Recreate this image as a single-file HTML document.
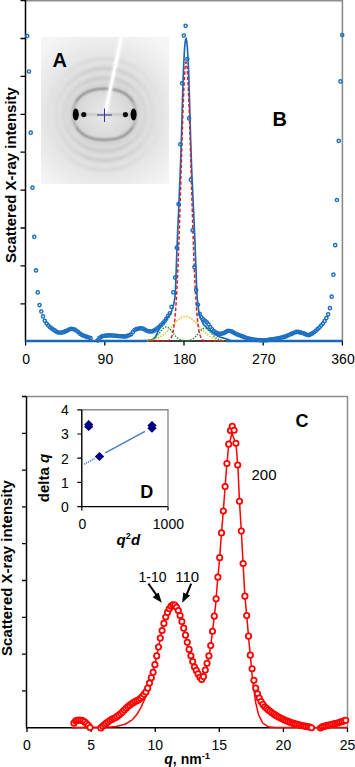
<!DOCTYPE html>
<html><head><meta charset="utf-8"><style>
html,body{margin:0;padding:0;background:#fff;width:355px;height:767px;overflow:hidden}
svg{display:block}
text{font-family:"Liberation Sans",sans-serif}
.tl{font-size:14px;fill:#000}
.ax{font-size:15px;font-weight:bold;fill:#000}
.axb{font-size:14px;font-weight:bold;fill:#000}
.big{font-size:20px;font-weight:bold;fill:#000}
.big2{font-size:18px;font-weight:bold;fill:#000}
.big3{font-size:18px;font-weight:bold;fill:#000}
</style></head><body>
<svg width="355" height="767" viewBox="0 0 355 767">
<defs>
<radialGradient id="bgG" cx="104.5" cy="115" r="90" gradientUnits="userSpaceOnUse">
<stop offset="0" stop-color="#d8d8d8"/><stop offset="0.35" stop-color="#dcdcdc"/><stop offset="0.6" stop-color="#e3e3e3"/><stop offset="0.85" stop-color="#eeeeee"/><stop offset="1" stop-color="#f5f5f5"/>
</radialGradient>
<filter id="blur2" x="-20%" y="-20%" width="140%" height="140%"><feGaussianBlur stdDeviation="2"/></filter>
<filter id="blur1" x="-20%" y="-20%" width="140%" height="140%"><feGaussianBlur stdDeviation="0.9"/></filter>
<filter id="blur3" x="-30%" y="-30%" width="160%" height="160%"><feGaussianBlur stdDeviation="3"/></filter>
<filter id="blur15" x="-20%" y="-20%" width="140%" height="140%"><feGaussianBlur stdDeviation="1.7"/></filter>
<filter id="blur05" x="-20%" y="-20%" width="140%" height="140%"><feGaussianBlur stdDeviation="0.5"/></filter>
<clipPath id="clipTB"><rect x="78" y="70" width="53" height="22"/><rect x="78" y="137" width="53" height="22"/></clipPath>
<clipPath id="clipTB2"><rect x="70" y="80" width="70" height="22"/><rect x="70" y="127" width="70" height="22"/></clipPath>
<radialGradient id="diskG" cx="104.5" cy="114" r="31" gradientUnits="userSpaceOnUse"><stop offset="0" stop-color="#e8e8e8"/><stop offset="0.5" stop-color="#e0e0e0"/><stop offset="1" stop-color="#d4d4d4"/></radialGradient>
<linearGradient id="sideG" x1="41" x2="169" y1="0" y2="0" gradientUnits="userSpaceOnUse"><stop offset="0" stop-color="#000"/><stop offset="0.15" stop-color="#444"/><stop offset="0.38" stop-color="#fff"/><stop offset="0.62" stop-color="#fff"/><stop offset="0.85" stop-color="#444"/><stop offset="1" stop-color="#000"/></linearGradient>
<mask id="sideFade" maskUnits="userSpaceOnUse" x="0" y="0" width="355" height="400"><rect x="30" y="30" width="150" height="170" fill="url(#sideG)"/></mask>
</defs>
<path d="M25.5 0.8H342.4V341" fill="none" stroke="#8c8c8c" stroke-width="1.6"/>
<path d="M25.5 0V341H342.4" fill="none" stroke="#000" stroke-width="1.5"/>
<path d="M20.5 0.6H25.5M20.5 38.5H25.5M20.5 76.4H25.5M20.5 114.3H25.5M20.5 152.2H25.5M20.5 190.1H25.5M20.5 228.0H25.5M20.5 265.9H25.5M20.5 303.8H25.5M25.6 341V345.5M104.8 341V345.5M184.0 341V345.5M263.2 341V345.5M342.4 341V345.5" stroke="#000" stroke-width="1.3"/>
<text x="26.2" y="364" text-anchor="middle" class="tl">0</text>
<text x="105.4" y="364" text-anchor="middle" class="tl">90</text>
<text x="184.6" y="364" text-anchor="middle" class="tl">180</text>
<text x="263.8" y="364" text-anchor="middle" class="tl">270</text>
<text x="343.0" y="364" text-anchor="middle" class="tl">360</text>
<text transform="translate(15.6,175) rotate(-90)" text-anchor="middle" class="ax">Scattered X-ray intensity</text>

<g>
<rect x="41" y="37" width="128" height="147" fill="url(#bgG)"/>
<g filter="url(#blur2)">
 <ellipse cx="104.5" cy="114.5" rx="34" ry="28" fill="none" stroke="#c4c4c4" stroke-width="5" clip-path="url(#clipTB)"/>
 <ellipse cx="104.5" cy="114.5" rx="34" ry="28" fill="none" stroke="#d2d2d2" stroke-width="4"/>
</g>
<g filter="url(#blur15)" mask="url(#sideFade)">
 <ellipse cx="104.5" cy="114.5" rx="41" ry="36.5" fill="none" stroke="#c6c6c6" stroke-width="3"/>
 <ellipse cx="104.5" cy="114.5" rx="48.5" ry="46" fill="none" stroke="#c8c8c8" stroke-width="3"/>
 <ellipse cx="104.5" cy="114.5" rx="57" ry="55.5" fill="none" stroke="#d4d4d4" stroke-width="2.5"/>
</g>
<g filter="url(#blur1)">
 <path d="M135.80 114.30L135.76 116.14L135.65 117.70L135.46 119.16L135.19 120.56L134.85 121.91L134.43 123.21L133.95 124.46L133.38 125.67L132.75 126.84L132.04 127.96L131.27 129.04L130.43 130.08L129.52 131.06L128.54 132.00L127.50 132.89L126.40 133.73L125.24 134.52L124.02 135.26L122.74 135.94L121.40 136.56L120.01 137.13L118.57 137.65L117.07 138.10L115.52 138.50L113.91 138.83L112.25 139.11L110.52 139.32L108.70 139.48L106.77 139.57L104.50 139.60L102.23 139.57L100.30 139.48L98.48 139.32L96.75 139.11L95.09 138.83L93.48 138.50L91.93 138.10L90.43 137.65L88.99 137.13L87.60 136.56L86.26 135.94L84.98 135.26L83.76 134.52L82.60 133.73L81.50 132.89L80.46 132.00L79.48 131.06L78.57 130.08L77.73 129.04L76.96 127.96L76.25 126.84L75.62 125.67L75.05 124.46L74.57 123.21L74.15 121.91L73.81 120.56L73.54 119.16L73.35 117.70L73.24 116.14L73.20 114.30L73.24 112.46L73.35 110.90L73.54 109.44L73.81 108.04L74.15 106.69L74.57 105.39L75.05 104.14L75.62 102.93L76.25 101.76L76.96 100.64L77.73 99.56L78.57 98.52L79.48 97.54L80.46 96.60L81.50 95.71L82.60 94.87L83.76 94.08L84.98 93.34L86.26 92.66L87.60 92.04L88.99 91.47L90.43 90.95L91.93 90.50L93.48 90.10L95.09 89.77L96.75 89.49L98.48 89.28L100.30 89.12L102.23 89.03L104.50 89.00L106.77 89.03L108.70 89.12L110.52 89.28L112.25 89.49L113.91 89.77L115.52 90.10L117.07 90.50L118.57 90.95L120.01 91.47L121.40 92.04L122.74 92.66L124.02 93.34L125.24 94.08L126.40 94.87L127.50 95.71L128.54 96.60L129.52 97.54L130.43 98.52L131.27 99.56L132.04 100.64L132.75 101.76L133.38 102.93L133.95 104.14L134.43 105.39L134.85 106.69L135.19 108.04L135.46 109.44L135.65 110.90L135.76 112.46Z" fill="url(#diskG)" stroke="#909090" stroke-width="1.4"/>
 <path d="M135.80 114.30L135.76 116.14L135.65 117.70L135.46 119.16L135.19 120.56L134.85 121.91L134.43 123.21L133.95 124.46L133.38 125.67L132.75 126.84L132.04 127.96L131.27 129.04L130.43 130.08L129.52 131.06L128.54 132.00L127.50 132.89L126.40 133.73L125.24 134.52L124.02 135.26L122.74 135.94L121.40 136.56L120.01 137.13L118.57 137.65L117.07 138.10L115.52 138.50L113.91 138.83L112.25 139.11L110.52 139.32L108.70 139.48L106.77 139.57L104.50 139.60L102.23 139.57L100.30 139.48L98.48 139.32L96.75 139.11L95.09 138.83L93.48 138.50L91.93 138.10L90.43 137.65L88.99 137.13L87.60 136.56L86.26 135.94L84.98 135.26L83.76 134.52L82.60 133.73L81.50 132.89L80.46 132.00L79.48 131.06L78.57 130.08L77.73 129.04L76.96 127.96L76.25 126.84L75.62 125.67L75.05 124.46L74.57 123.21L74.15 121.91L73.81 120.56L73.54 119.16L73.35 117.70L73.24 116.14L73.20 114.30L73.24 112.46L73.35 110.90L73.54 109.44L73.81 108.04L74.15 106.69L74.57 105.39L75.05 104.14L75.62 102.93L76.25 101.76L76.96 100.64L77.73 99.56L78.57 98.52L79.48 97.54L80.46 96.60L81.50 95.71L82.60 94.87L83.76 94.08L84.98 93.34L86.26 92.66L87.60 92.04L88.99 91.47L90.43 90.95L91.93 90.50L93.48 90.10L95.09 89.77L96.75 89.49L98.48 89.28L100.30 89.12L102.23 89.03L104.50 89.00L106.77 89.03L108.70 89.12L110.52 89.28L112.25 89.49L113.91 89.77L115.52 90.10L117.07 90.50L118.57 90.95L120.01 91.47L121.40 92.04L122.74 92.66L124.02 93.34L125.24 94.08L126.40 94.87L127.50 95.71L128.54 96.60L129.52 97.54L130.43 98.52L131.27 99.56L132.04 100.64L132.75 101.76L133.38 102.93L133.95 104.14L134.43 105.39L134.85 106.69L135.19 108.04L135.46 109.44L135.65 110.90L135.76 112.46Z" fill="none" stroke="#6a6a6a" stroke-width="1.6" clip-path="url(#clipTB2)"/>
 <path d="M76 114.6H134" stroke="#9a9a9a" stroke-width="1"/>
 <path d="M105.5 112L121.5 36.5" stroke="#fff" stroke-width="4.5" opacity="0.7"/>
</g>
<g filter="url(#blur05)">
 <ellipse cx="75.8" cy="114.6" rx="3" ry="6" fill="#000"/>
 <ellipse cx="133.6" cy="114.6" rx="3" ry="6" fill="#000"/>
 <circle cx="83.8" cy="114.6" r="2.6" fill="#0a0a0a"/>
 <circle cx="125.4" cy="114.6" r="2.6" fill="#0a0a0a"/>
 <path d="M105.3 113L121.2 37" stroke="#fff" stroke-width="2.4"/>
</g>
<path d="M97 115H112M104.5 108.5V122" stroke="#33339a" stroke-width="1"/>
</g>

<text x="52.5" y="66.5" class="big">A</text>
<text x="272.5" y="125.8" class="big">B</text>
<path d="M25.6 341H146M226 341H342.4" fill="none" stroke="#1a6cbc" stroke-width="2.3"/>
<path d="M25.60 341.00L26.10 341.00L26.60 341.00L27.10 341.00L27.60 341.00L28.10 341.00L28.60 341.00L29.10 341.00L29.60 341.00L30.10 341.00L30.60 341.00L31.10 341.00L31.60 341.00L32.10 341.00L32.60 341.00L33.10 341.00L33.60 341.00L34.10 341.00L34.60 341.00L35.10 341.00L35.60 341.00L36.10 341.00L36.60 341.00L37.10 341.00L37.60 341.00L38.10 341.00L38.60 341.00L39.10 341.00L39.60 341.00L40.10 341.00L40.60 341.00L41.10 341.00L41.60 341.00L42.10 341.00L42.60 341.00L43.10 341.00L43.60 341.00L44.10 341.00L44.60 341.00L45.10 341.00L45.60 341.00L46.10 341.00L46.60 341.00L47.10 341.00L47.60 341.00L48.10 341.00L48.60 341.00L49.10 341.00L49.60 341.00L50.10 341.00L50.60 341.00L51.10 341.00L51.60 341.00L52.10 341.00L52.60 341.00L53.10 341.00L53.60 341.00L54.10 341.00L54.60 341.00L55.10 341.00L55.60 341.00L56.10 341.00L56.60 341.00L57.10 341.00L57.60 341.00L58.10 341.00L58.60 341.00L59.10 341.00L59.60 341.00L60.10 341.00L60.60 341.00L61.10 341.00L61.60 341.00L62.10 341.00L62.60 341.00L63.10 341.00L63.60 341.00L64.10 341.00L64.60 341.00L65.10 341.00L65.60 341.00L66.10 341.00L66.60 341.00L67.10 341.00L67.60 341.00L68.10 341.00L68.60 341.00L69.10 341.00L69.60 341.00L70.10 341.00L70.60 341.00L71.10 341.00L71.60 341.00L72.10 341.00L72.60 341.00L73.10 341.00L73.60 341.00L74.10 341.00L74.60 341.00L75.10 341.00L75.60 341.00L76.10 341.00L76.60 341.00L77.10 341.00L77.60 341.00L78.10 341.00L78.60 341.00L79.10 341.00L79.60 341.00L80.10 341.00L80.60 341.00L81.10 341.00L81.60 341.00L82.10 341.00L82.60 341.00L83.10 341.00L83.60 341.00L84.10 341.00L84.60 341.00L85.10 341.00L85.60 341.00L86.10 341.00L86.60 341.00L87.10 341.00L87.60 341.00L88.10 341.00L88.60 341.00L89.10 341.00L89.60 341.00L90.10 341.00L90.60 341.00L91.10 341.00L91.60 341.00L92.10 341.00L92.60 341.00L93.10 341.00L93.60 341.00L94.10 341.00L94.60 341.00L95.10 341.00L95.60 341.00L96.10 341.00L96.60 341.00L97.10 341.00L97.60 341.00L98.10 341.00L98.60 341.00L99.10 341.00L99.60 341.00L100.10 341.00L100.60 341.00L101.10 341.00L101.60 341.00L102.10 341.00L102.60 341.00L103.10 341.00L103.60 341.00L104.10 341.00L104.60 341.00L105.10 341.00L105.60 341.00L106.10 341.00L106.60 341.00L107.10 341.00L107.60 341.00L108.10 341.00L108.60 341.00L109.10 341.00L109.60 341.00L110.10 341.00L110.60 341.00L111.10 341.00L111.60 341.00L112.10 341.00L112.60 341.00L113.10 341.00L113.60 341.00L114.10 341.00L114.60 341.00L115.10 341.00L115.60 341.00L116.10 341.00L116.60 341.00L117.10 341.00L117.60 341.00L118.10 341.00L118.60 341.00L119.10 341.00L119.60 341.00L120.10 341.00L120.60 341.00L121.10 341.00L121.60 341.00L122.10 341.00L122.60 341.00L123.10 341.00L123.60 341.00L124.10 341.00L124.60 341.00L125.10 341.00L125.60 341.00L126.10 341.00L126.60 341.00L127.10 341.00L127.60 341.00L128.10 341.00L128.60 341.00L129.10 341.00L129.60 341.00L130.10 341.00L130.60 341.00L131.10 341.00L131.60 341.00L132.10 341.00L132.60 341.00L133.10 341.00L133.60 341.00L134.10 341.00L134.60 341.00L135.10 341.00L135.60 341.00L136.10 341.00L136.60 341.00L137.10 341.00L137.60 341.00L138.10 341.00L138.60 341.00L139.10 341.00L139.60 341.00L140.10 341.00L140.60 341.00L141.10 341.00L141.60 341.00L142.10 341.00L142.60 341.00L143.10 341.00L143.60 341.00L144.10 340.97L144.60 340.80L145.10 340.63L145.60 340.56L146.10 340.51L146.60 340.46L147.10 340.41L147.60 340.36L148.10 340.31L148.60 340.26L149.10 340.20L149.60 340.15L150.10 340.10L150.60 340.05L151.10 340.00L151.60 339.95L152.10 339.90L152.60 339.48L153.10 339.07L153.60 338.65L154.10 338.23L154.60 337.82L155.10 337.40L155.60 336.38L156.10 335.36L156.60 334.34L157.10 333.32L157.60 332.30L158.10 331.30L158.60 330.30L159.10 329.30L159.60 328.30L160.10 327.37L160.60 326.72L161.10 326.07L161.60 325.42L162.10 324.77L162.60 324.12L163.10 323.47L163.60 322.79L164.10 322.12L164.60 321.45L165.10 320.78L165.60 320.10L166.10 319.43L166.60 318.77L167.10 318.10L167.60 317.43L168.10 316.77L168.60 316.10L169.10 315.38L169.60 314.56L170.10 313.75L170.60 312.94L171.10 312.12L171.60 311.05L172.10 309.80L172.60 308.55L173.10 307.30L173.60 305.03L174.10 302.08L174.60 299.13L175.10 296.18L175.60 286.00L176.10 272.50L176.60 259.09L177.10 245.45L177.60 233.33L178.10 222.22L178.60 211.11L179.10 199.05L179.60 186.89L180.10 174.73L180.60 162.00L181.10 147.00L181.60 131.33L182.10 113.00L182.60 95.92L183.10 78.83L183.60 66.43L184.10 57.14L184.60 47.86L185.10 42.75L185.60 39.30L186.10 38.70L186.60 40.31L187.10 44.37L187.60 51.57L188.10 60.86L188.60 70.14L189.10 85.67L189.60 102.75L190.10 120.33L190.60 138.00L191.10 153.00L191.60 167.25L192.10 178.50L192.60 189.75L193.10 201.00L193.60 212.14L194.10 222.86L194.60 233.57L195.10 245.45L195.60 259.09L196.10 272.50L196.60 286.00L197.10 297.00L197.60 302.00L198.10 306.37L198.60 309.81L199.10 313.25L199.60 316.21L200.10 317.27L200.60 318.34L201.10 319.40L201.60 320.46L202.10 321.52L202.60 322.59L203.10 323.65L203.60 324.60L204.10 325.11L204.60 325.62L205.10 326.13L205.60 326.64L206.10 327.15L206.60 327.66L207.10 328.16L207.60 328.67L208.10 329.18L208.60 329.69L209.10 330.20L209.60 330.57L210.10 330.93L210.60 331.30L211.10 331.66L211.60 332.03L212.10 332.40L212.60 332.76L213.10 333.13L213.60 333.49L214.10 333.86L214.60 334.23L215.10 334.52L215.60 334.80L216.10 335.08L216.60 335.36L217.10 335.63L217.60 335.91L218.10 336.19L218.60 336.47L219.10 336.74L219.60 336.92L220.10 337.06L220.60 337.21L221.10 337.36L221.60 337.51L222.10 337.65L222.60 337.80L223.10 337.95L223.60 338.09L224.10 338.24L224.60 338.39L225.10 338.54L225.60 338.68L226.10 338.84L226.60 339.02L227.10 339.20L227.60 339.39L228.10 339.57L228.60 339.75L229.10 339.94L229.60 340.12L230.10 340.30L230.60 340.49L231.10 340.67L231.60 340.85L232.10 341.00L232.60 341.00L233.10 341.00L233.60 341.00L234.10 341.00L234.60 341.00L235.10 341.00L235.60 341.00L236.10 341.00L236.60 341.00L237.10 341.00L237.60 341.00L238.10 341.00L238.60 341.00L239.10 341.00L239.60 341.00L240.10 341.00L240.60 341.00L241.10 341.00L241.60 341.00L242.10 341.00L242.60 341.00L243.10 341.00L243.60 341.00L244.10 341.00L244.60 341.00L245.10 341.00L245.60 341.00L246.10 341.00L246.60 341.00L247.10 341.00L247.60 341.00L248.10 341.00L248.60 341.00L249.10 341.00L249.60 341.00L250.10 341.00L250.60 341.00L251.10 341.00L251.60 341.00L252.10 341.00L252.60 341.00L253.10 341.00L253.60 341.00L254.10 341.00L254.60 341.00L255.10 341.00L255.60 341.00L256.10 341.00L256.60 341.00L257.10 341.00L257.60 341.00L258.10 341.00L258.60 341.00L259.10 341.00L259.60 341.00L260.10 341.00L260.60 341.00L261.10 341.00L261.60 341.00L262.10 341.00L262.60 341.00L263.10 341.00L263.60 341.00L264.10 341.00L264.60 341.00L265.10 341.00L265.60 341.00L266.10 341.00L266.60 341.00L267.10 341.00L267.60 341.00L268.10 341.00L268.60 341.00L269.10 341.00L269.60 341.00L270.10 341.00L270.60 341.00L271.10 341.00L271.60 341.00L272.10 341.00L272.60 341.00L273.10 341.00L273.60 341.00L274.10 341.00L274.60 341.00L275.10 341.00L275.60 341.00L276.10 341.00L276.60 341.00L277.10 341.00L277.60 341.00L278.10 341.00L278.60 341.00L279.10 341.00L279.60 341.00L280.10 341.00L280.60 341.00L281.10 341.00L281.60 341.00L282.10 341.00L282.60 341.00L283.10 341.00L283.60 341.00L284.10 341.00L284.60 341.00L285.10 341.00L285.60 341.00L286.10 341.00L286.60 341.00L287.10 341.00L287.60 341.00L288.10 341.00L288.60 341.00L289.10 341.00L289.60 341.00L290.10 341.00L290.60 341.00L291.10 341.00L291.60 341.00L292.10 341.00L292.60 341.00L293.10 341.00L293.60 341.00L294.10 341.00L294.60 341.00L295.10 341.00L295.60 341.00L296.10 341.00L296.60 341.00L297.10 341.00L297.60 341.00L298.10 341.00L298.60 341.00L299.10 341.00L299.60 341.00L300.10 341.00L300.60 341.00L301.10 341.00L301.60 341.00L302.10 341.00L302.60 341.00L303.10 341.00L303.60 341.00L304.10 341.00L304.60 341.00L305.10 341.00L305.60 341.00L306.10 341.00L306.60 341.00L307.10 341.00L307.60 341.00L308.10 341.00L308.60 341.00L309.10 341.00L309.60 341.00L310.10 341.00L310.60 341.00L311.10 341.00L311.60 341.00L312.10 341.00L312.60 341.00L313.10 341.00L313.60 341.00L314.10 341.00L314.60 341.00L315.10 341.00L315.60 341.00L316.10 341.00L316.60 341.00L317.10 341.00L317.60 341.00L318.10 341.00L318.60 341.00L319.10 341.00L319.60 341.00L320.10 341.00L320.60 341.00L321.10 341.00L321.60 341.00L322.10 341.00L322.60 341.00L323.10 341.00L323.60 341.00L324.10 341.00L324.60 341.00L325.10 341.00L325.60 341.00L326.10 341.00L326.60 341.00L327.10 341.00L327.60 341.00L328.10 341.00L328.60 341.00L329.10 341.00L329.60 341.00L330.10 341.00L330.60 341.00L331.10 341.00L331.60 341.00L332.10 341.00L332.60 341.00L333.10 341.00L333.60 341.00L334.10 341.00L334.60 341.00L335.10 341.00L335.60 341.00L336.10 341.00L336.60 341.00L337.10 341.00L337.60 341.00L338.10 341.00L338.60 341.00L339.10 341.00L339.60 341.00L340.10 341.00L340.60 341.00L341.10 341.00L341.60 341.00L342.10 341.00" fill="none" stroke="#1a66b8" stroke-width="1.65"/>
<path d="M147.00 340.58L147.50 340.53L148.00 340.48L148.50 340.43L149.00 340.37L149.50 340.30L150.00 340.23L150.50 340.15L151.00 340.06L151.50 339.97L152.00 339.87L152.50 339.77L153.00 339.65L153.50 339.52L154.00 339.39L154.50 339.25L155.00 339.09L155.50 338.93L156.00 338.75L156.50 338.56L157.00 338.36L157.50 338.15L158.00 337.92L158.50 337.68L159.00 337.43L159.50 337.17L160.00 336.88L160.50 336.59L161.00 336.28L161.50 335.95L162.00 335.62L162.50 335.26L163.00 334.89L163.50 334.51L164.00 334.11L164.50 333.69L165.00 333.27L165.50 332.82L166.00 332.37L166.50 331.90L167.00 331.42L167.50 330.93L168.00 330.43L168.50 329.91L169.00 329.39L169.50 328.86L170.00 328.33L170.50 327.78L171.00 327.24L171.50 326.69L172.00 326.14L172.50 325.59L173.00 325.04L173.50 324.50L174.00 323.96L174.50 323.42L175.00 322.89L175.50 322.38L176.00 321.87L176.50 321.38L177.00 320.91L177.50 320.45L178.00 320.00L178.50 319.58L179.00 319.18L179.50 318.80L180.00 318.45L180.50 318.12L181.00 317.82L181.50 317.55L182.00 317.31L182.50 317.10L183.00 316.92L183.50 316.77L184.00 316.65L184.50 316.57L185.00 316.52L185.50 316.50L186.00 316.52L186.50 316.57L187.00 316.65L187.50 316.77L188.00 316.92L188.50 317.10L189.00 317.31L189.50 317.55L190.00 317.82L190.50 318.12L191.00 318.45L191.50 318.80L192.00 319.18L192.50 319.58L193.00 320.00L193.50 320.45L194.00 320.91L194.50 321.38L195.00 321.87L195.50 322.38L196.00 322.89L196.50 323.42L197.00 323.96L197.50 324.50L198.00 325.04L198.50 325.59L199.00 326.14L199.50 326.69L200.00 327.24L200.50 327.78L201.00 328.33L201.50 328.86L202.00 329.39L202.50 329.91L203.00 330.43L203.50 330.93L204.00 331.42L204.50 331.90L205.00 332.37L205.50 332.82L206.00 333.27L206.50 333.69L207.00 334.11L207.50 334.51L208.00 334.89L208.50 335.26L209.00 335.62L209.50 335.95L210.00 336.28L210.50 336.59L211.00 336.88L211.50 337.17L212.00 337.43L212.50 337.68L213.00 337.92L213.50 338.15L214.00 338.36L214.50 338.56L215.00 338.75L215.50 338.93L216.00 339.09L216.50 339.25L217.00 339.39L217.50 339.52L218.00 339.65L218.50 339.77L219.00 339.87L219.50 339.97L220.00 340.06L220.50 340.15L221.00 340.23L221.50 340.30L222.00 340.37L222.50 340.43L223.00 340.48L223.50 340.53" fill="none" stroke="#e8bc2a" stroke-width="1.6" stroke-dasharray="1.4 1.4"/>
<path d="M148.00 340.72L148.50 340.66L149.00 340.58L149.50 340.48L150.00 340.37L150.50 340.24L151.00 340.09L151.50 339.91L152.00 339.71L152.50 339.48L153.00 339.22L153.50 338.92L154.00 338.59L154.50 338.23L155.00 337.83L155.50 337.39L156.00 336.91L156.50 336.40L157.00 335.86L157.50 335.28L158.00 334.68L158.50 334.06L159.00 333.42L159.50 332.77L160.00 332.12L160.50 331.47L161.00 330.83L161.50 330.22L162.00 329.64L162.50 329.09L163.00 328.60L163.50 328.16L164.00 327.78L164.50 327.47L165.00 327.24L165.50 327.08L166.00 327.01L166.50 327.01L167.00 327.11L167.50 327.28L168.00 327.53L168.50 327.85L169.00 328.24L169.50 328.69L170.00 329.20L170.50 329.75L171.00 330.34L171.50 330.96L172.00 331.60L172.50 332.25L173.00 332.90L173.50 333.55L174.00 334.19L174.50 334.80L175.00 335.40L175.50 335.97L176.00 336.51L176.50 337.01L177.00 337.48L177.50 337.91L178.00 338.30L178.50 338.66L179.00 338.98L179.50 339.27L180.00 339.52L180.50 339.74L181.00 339.94L181.50 340.10L182.00 340.25L182.50 340.36L183.00 340.46L183.50 340.54L184.00 340.60L184.50 340.65L185.00 340.67L185.50 340.69L186.00 340.69L186.50 340.67L187.00 340.64L187.50 340.59L188.00 340.53L188.50 340.45L189.00 340.35L189.50 340.23L190.00 340.09L190.50 339.92L191.00 339.73L191.50 339.51L192.00 339.26L192.50 338.98L193.00 338.67L193.50 338.32L194.00 337.94L194.50 337.53L195.00 337.08L195.50 336.60L196.00 336.09L196.50 335.56L197.00 335.00L197.50 334.42L198.00 333.83L198.50 333.24L199.00 332.64L199.50 332.05L200.00 331.48L200.50 330.93L201.00 330.41L201.50 329.93L202.00 329.49L202.50 329.11L203.00 328.79L203.50 328.54L204.00 328.35L204.50 328.24L205.00 328.20L205.50 328.24L206.00 328.35L206.50 328.54L207.00 328.79L207.50 329.11L208.00 329.49L208.50 329.93L209.00 330.41L209.50 330.93L210.00 331.48L210.50 332.05L211.00 332.64L211.50 333.24L212.00 333.83L212.50 334.42L213.00 335.00L213.50 335.56L214.00 336.09L214.50 336.60L215.00 337.08L215.50 337.53L216.00 337.94L216.50 338.32L217.00 338.67L217.50 338.99L218.00 339.27L218.50 339.52L219.00 339.74L219.50 339.94L220.00 340.11L220.50 340.25L221.00 340.38L221.50 340.49L222.00 340.58L222.50 340.66" fill="none" stroke="#1c9a3c" stroke-width="1.6" stroke-dasharray="1.4 1.4"/>
<path d="M150.00 341.00L150.50 341.00L151.00 341.00L151.50 341.00L152.00 341.00L152.50 341.00L153.00 341.00L153.50 341.00L154.00 341.00L154.50 341.00L155.00 341.00L155.50 341.00L156.00 341.00L156.50 341.00L157.00 341.00L157.50 341.00L158.00 341.00L158.50 341.00L159.00 341.00L159.50 341.00L160.00 341.00L160.50 341.00L161.00 341.00L161.50 341.00L162.00 341.00L162.50 341.00L163.00 340.99L163.50 340.99L164.00 340.98L164.50 340.98L165.00 340.96L165.50 340.94L166.00 340.91L166.50 340.87L167.00 340.81L167.50 340.72L168.00 340.60L168.50 340.43L169.00 340.20L169.50 339.87L170.00 339.44L170.50 338.85L171.00 338.08L171.50 337.07L172.00 335.77L172.50 334.10L173.00 331.98L173.50 329.34L174.00 326.08L174.50 322.08L175.00 317.26L175.50 311.51L176.00 304.73L176.50 296.83L177.00 287.75L177.50 277.44L178.00 265.89L178.50 253.12L179.00 239.20L179.50 224.25L180.00 208.44L180.50 191.99L181.00 175.16L181.50 158.27L182.00 141.66L182.50 125.70L183.00 110.79L183.50 97.28L184.00 85.55L184.50 75.93L185.00 68.67L185.50 64.00L186.00 62.06L186.50 62.89L187.00 66.48L187.50 72.73L188.00 81.43L188.50 92.36L189.00 105.19L189.50 119.59L190.00 135.18L190.50 151.57L191.00 168.39L191.50 185.29L192.00 201.93L192.50 218.02L193.00 233.34L193.50 247.68L194.00 260.92L194.50 272.97L195.00 283.77L195.50 293.34L196.00 301.71L196.50 308.93L197.00 315.08L197.50 320.26L198.00 324.57L198.50 328.12L199.00 331.00L199.50 333.31L200.00 335.15L200.50 336.59L201.00 337.71L201.50 338.57L202.00 339.22L202.50 339.71L203.00 340.08L203.50 340.35L204.00 340.54L204.50 340.68L205.00 340.78L205.50 340.85L206.00 340.90L206.50 340.93L207.00 340.96L207.50 340.97L208.00 340.98L208.50 340.99L209.00 340.99L209.50 341.00L210.00 341.00L210.50 341.00L211.00 341.00L211.50 341.00L212.00 341.00L212.50 341.00L213.00 341.00L213.50 341.00L214.00 341.00L214.50 341.00L215.00 341.00L215.50 341.00L216.00 341.00L216.50 341.00L217.00 341.00L217.50 341.00L218.00 341.00L218.50 341.00L219.00 341.00L219.50 341.00L220.00 341.00L220.50 341.00L221.00 341.00L221.50 341.00" fill="none" stroke="#d82222" stroke-width="1.5" stroke-dasharray="3.5 2"/>
<g fill="none" stroke="#1c70bf" stroke-width="1.45"><circle cx="27.20" cy="36.00" r="1.6"/><circle cx="28.96" cy="71.49" r="1.6"/><circle cx="30.72" cy="132.63" r="1.6"/><circle cx="32.48" cy="187.67" r="1.6"/><circle cx="34.24" cy="236.86" r="1.6"/><circle cx="36.00" cy="270.40" r="1.6"/><circle cx="37.76" cy="292.40" r="1.6"/><circle cx="39.52" cy="305.07" r="1.6"/><circle cx="41.28" cy="311.53" r="1.6"/><circle cx="43.04" cy="316.40" r="1.6"/><circle cx="44.80" cy="320.80" r="1.6"/><circle cx="46.56" cy="323.52" r="1.6"/><circle cx="48.32" cy="325.52" r="1.6"/><circle cx="50.08" cy="327.28" r="1.6"/><circle cx="51.84" cy="328.57" r="1.6"/><circle cx="53.60" cy="329.76" r="1.6"/><circle cx="55.36" cy="330.91" r="1.6"/><circle cx="57.12" cy="332.05" r="1.6"/><circle cx="58.88" cy="332.45" r="1.6"/><circle cx="60.64" cy="332.79" r="1.6"/><circle cx="62.40" cy="332.38" r="1.6"/><circle cx="64.16" cy="331.93" r="1.6"/><circle cx="65.92" cy="331.13" r="1.6"/><circle cx="67.68" cy="330.30" r="1.6"/><circle cx="69.44" cy="329.37" r="1.6"/><circle cx="71.20" cy="328.78" r="1.6"/><circle cx="72.96" cy="329.04" r="1.6"/><circle cx="74.72" cy="329.65" r="1.6"/><circle cx="76.48" cy="330.76" r="1.6"/><circle cx="78.24" cy="332.07" r="1.6"/><circle cx="80.00" cy="333.67" r="1.6"/><circle cx="81.76" cy="334.85" r="1.6"/><circle cx="83.52" cy="335.68" r="1.6"/><circle cx="85.28" cy="336.32" r="1.6"/><circle cx="87.04" cy="336.84" r="1.6"/><circle cx="88.80" cy="337.46" r="1.6"/><circle cx="90.56" cy="338.15" r="1.6"/><circle cx="97.60" cy="340.44" r="1.6"/><circle cx="99.36" cy="338.01" r="1.6"/><circle cx="101.12" cy="336.88" r="1.6"/><circle cx="102.88" cy="335.96" r="1.6"/><circle cx="104.64" cy="335.78" r="1.6"/><circle cx="106.40" cy="335.60" r="1.6"/><circle cx="108.16" cy="335.42" r="1.6"/><circle cx="109.92" cy="335.35" r="1.6"/><circle cx="111.68" cy="335.48" r="1.6"/><circle cx="113.44" cy="335.61" r="1.6"/><circle cx="115.20" cy="335.74" r="1.6"/><circle cx="116.96" cy="335.89" r="1.6"/><circle cx="118.72" cy="336.05" r="1.6"/><circle cx="120.48" cy="336.20" r="1.6"/><circle cx="122.24" cy="336.31" r="1.6"/><circle cx="124.00" cy="336.41" r="1.6"/><circle cx="125.76" cy="336.41" r="1.6"/><circle cx="127.52" cy="335.83" r="1.6"/><circle cx="129.28" cy="335.24" r="1.6"/><circle cx="131.04" cy="334.27" r="1.6"/><circle cx="132.80" cy="332.15" r="1.6"/><circle cx="134.56" cy="330.03" r="1.6"/><circle cx="136.32" cy="329.17" r="1.6"/><circle cx="138.08" cy="328.73" r="1.6"/><circle cx="139.84" cy="328.29" r="1.6"/><circle cx="141.60" cy="328.34" r="1.6"/><circle cx="143.36" cy="328.77" r="1.6"/><circle cx="145.12" cy="329.80" r="1.6"/><circle cx="146.88" cy="330.71" r="1.6"/><circle cx="148.64" cy="331.32" r="1.6"/><circle cx="150.40" cy="331.50" r="1.6"/><circle cx="152.16" cy="331.39" r="1.6"/><circle cx="153.92" cy="330.65" r="1.6"/><circle cx="155.68" cy="329.55" r="1.6"/><circle cx="157.44" cy="328.23" r="1.6"/><circle cx="159.20" cy="326.77" r="1.6"/><circle cx="160.96" cy="325.16" r="1.6"/><circle cx="162.72" cy="323.39" r="1.6"/><circle cx="164.48" cy="321.38" r="1.6"/><circle cx="166.24" cy="318.83" r="1.6"/><circle cx="168.00" cy="315.96" r="1.6"/><circle cx="169.76" cy="313.21" r="1.6"/><circle cx="171.52" cy="306.90" r="1.6"/><circle cx="173.28" cy="292.36" r="1.6"/><circle cx="175.04" cy="277.62" r="1.6"/><circle cx="176.80" cy="247.70" r="1.6"/><circle cx="178.56" cy="204.19" r="1.6"/><circle cx="180.32" cy="144.31" r="1.6"/><circle cx="182.08" cy="83.29" r="1.6"/><circle cx="183.84" cy="35.58" r="1.6"/><circle cx="185.60" cy="25.80" r="1.6"/><circle cx="187.36" cy="59.04" r="1.6"/><circle cx="189.12" cy="118.40" r="1.6"/><circle cx="190.88" cy="179.70" r="1.6"/><circle cx="192.64" cy="230.43" r="1.6"/><circle cx="194.40" cy="267.00" r="1.6"/><circle cx="196.16" cy="290.08" r="1.6"/><circle cx="197.92" cy="304.71" r="1.6"/><circle cx="199.68" cy="313.76" r="1.6"/><circle cx="201.44" cy="317.28" r="1.6"/><circle cx="203.20" cy="319.20" r="1.6"/><circle cx="204.96" cy="320.80" r="1.6"/><circle cx="206.72" cy="322.37" r="1.6"/><circle cx="208.48" cy="324.38" r="1.6"/><circle cx="210.24" cy="327.01" r="1.6"/><circle cx="212.00" cy="329.20" r="1.6"/><circle cx="213.76" cy="330.96" r="1.6"/><circle cx="215.52" cy="332.24" r="1.6"/><circle cx="217.28" cy="333.14" r="1.6"/><circle cx="219.04" cy="333.80" r="1.6"/><circle cx="220.80" cy="333.80" r="1.6"/><circle cx="222.56" cy="333.47" r="1.6"/><circle cx="224.32" cy="332.86" r="1.6"/><circle cx="226.08" cy="331.85" r="1.6"/><circle cx="227.84" cy="330.80" r="1.6"/><circle cx="229.60" cy="331.02" r="1.6"/><circle cx="231.36" cy="331.37" r="1.6"/><circle cx="233.12" cy="332.31" r="1.6"/><circle cx="234.88" cy="333.29" r="1.6"/><circle cx="236.64" cy="334.25" r="1.6"/><circle cx="238.40" cy="334.85" r="1.6"/><circle cx="240.16" cy="335.46" r="1.6"/><circle cx="241.92" cy="336.16" r="1.6"/><circle cx="243.68" cy="336.85" r="1.6"/><circle cx="245.44" cy="337.55" r="1.6"/><circle cx="247.20" cy="338.24" r="1.6"/><circle cx="248.96" cy="338.67" r="1.6"/><circle cx="250.72" cy="339.02" r="1.6"/><circle cx="252.48" cy="339.36" r="1.6"/><circle cx="254.24" cy="339.71" r="1.6"/><circle cx="256.00" cy="339.94" r="1.6"/><circle cx="257.76" cy="340.03" r="1.6"/><circle cx="259.52" cy="340.11" r="1.6"/><circle cx="261.28" cy="340.20" r="1.6"/><circle cx="263.04" cy="340.28" r="1.6"/><circle cx="264.80" cy="340.37" r="1.6"/><circle cx="266.56" cy="340.22" r="1.6"/><circle cx="268.32" cy="339.94" r="1.6"/><circle cx="270.08" cy="339.66" r="1.6"/><circle cx="271.84" cy="339.38" r="1.6"/><circle cx="273.60" cy="339.10" r="1.6"/><circle cx="275.36" cy="338.82" r="1.6"/><circle cx="277.12" cy="338.54" r="1.6"/><circle cx="278.88" cy="338.19" r="1.6"/><circle cx="280.64" cy="337.77" r="1.6"/><circle cx="282.40" cy="337.36" r="1.6"/><circle cx="284.16" cy="336.94" r="1.6"/><circle cx="285.92" cy="336.44" r="1.6"/><circle cx="287.68" cy="335.58" r="1.6"/><circle cx="289.44" cy="334.72" r="1.6"/><circle cx="291.20" cy="333.90" r="1.6"/><circle cx="292.96" cy="333.20" r="1.6"/><circle cx="294.72" cy="332.50" r="1.6"/><circle cx="296.48" cy="331.81" r="1.6"/><circle cx="298.24" cy="331.93" r="1.6"/><circle cx="300.00" cy="332.40" r="1.6"/><circle cx="301.76" cy="332.86" r="1.6"/><circle cx="303.52" cy="333.35" r="1.6"/><circle cx="305.28" cy="334.07" r="1.6"/><circle cx="307.04" cy="334.80" r="1.6"/><circle cx="308.80" cy="335.24" r="1.6"/><circle cx="310.56" cy="334.33" r="1.6"/><circle cx="312.32" cy="333.41" r="1.6"/><circle cx="314.08" cy="332.29" r="1.6"/><circle cx="315.84" cy="330.74" r="1.6"/><circle cx="317.60" cy="329.18" r="1.6"/><circle cx="319.36" cy="327.47" r="1.6"/><circle cx="321.12" cy="325.53" r="1.6"/><circle cx="322.88" cy="323.60" r="1.6"/><circle cx="324.64" cy="321.10" r="1.6"/><circle cx="326.40" cy="318.11" r="1.6"/><circle cx="328.16" cy="314.31" r="1.6"/><circle cx="329.92" cy="308.17" r="1.6"/><circle cx="331.68" cy="296.63" r="1.6"/><circle cx="333.44" cy="274.63" r="1.6"/><circle cx="335.20" cy="245.20" r="1.6"/><circle cx="336.96" cy="200.03" r="1.6"/><circle cx="338.72" cy="140.82" r="1.6"/><circle cx="340.48" cy="81.38" r="1.6"/><circle cx="342.24" cy="35.00" r="1.6"/></g>
<path d="M26.5 396.5H347.5V727.7" fill="none" stroke="#8c8c8c" stroke-width="1.5"/>
<path d="M26.5 396.5V727.7H347.5" fill="none" stroke="#000" stroke-width="1.5"/>
<path d="M22 396.5H26.5M22 433.3H26.5M22 470.1H26.5M22 506.9H26.5M22 543.7H26.5M22 580.5H26.5M22 617.3H26.5M22 654.1H26.5M22 690.9H26.5M27.0 727.7V732M91.1 727.7V732M155.2 727.7V732M219.3 727.7V732M283.4 727.7V732M347.5 727.7V732" stroke="#000" stroke-width="1.3"/>
<text x="27.0" y="750" text-anchor="middle" class="tl">0</text>
<text x="91.1" y="750" text-anchor="middle" class="tl">5</text>
<text x="155.2" y="750" text-anchor="middle" class="tl">10</text>
<text x="219.3" y="750" text-anchor="middle" class="tl">15</text>
<text x="283.4" y="750" text-anchor="middle" class="tl">20</text>
<text x="347.5" y="750" text-anchor="middle" class="tl">25</text>
<text x="164.3" y="763.5" class="axb"><tspan font-style="italic">q</tspan>, nm<tspan dy="-5" font-size="9.5">-1</tspan></text>
<text transform="translate(12.4,568) rotate(-90)" text-anchor="middle" class="ax">Scattered X-ray intensity</text>
<path d="M72.00 727.70L72.50 727.69L73.00 727.68L73.50 727.67L74.00 727.66L74.50 727.65L75.00 727.64L75.50 727.63L76.00 727.62L76.50 727.61L77.00 727.60L77.50 727.59L78.00 727.58L78.50 727.56L79.00 727.55L79.50 727.54L80.00 727.53L80.50 727.52L81.00 727.51L81.50 727.50L82.00 727.49L82.50 727.48L83.00 727.47L83.50 727.46L84.00 727.45L84.50 727.44L85.00 727.43L85.50 727.42L86.00 727.41L86.50 727.40L87.00 727.39L87.50 727.38L88.00 727.37L88.50 727.36L89.00 727.35L89.50 727.34L90.00 727.33L90.50 727.32L91.00 727.31L91.50 727.29L92.00 727.28L92.50 727.27L93.00 727.26L93.50 727.25L94.00 727.24L94.50 727.23L95.00 727.22L95.50 727.21L96.00 727.20L96.50 727.19L97.00 727.18L97.50 727.17L98.00 727.16L98.50 727.15L99.00 727.14L99.50 727.13L100.00 727.12L100.50 727.11L101.00 727.10L101.50 727.09L102.00 727.08L102.50 727.07L103.00 727.06L103.50 727.05L104.00 727.03L104.50 727.02L105.00 727.01L105.50 727.00L106.00 726.99L106.50 726.98L107.00 726.97L107.50 726.96L108.00 726.95L108.50 726.94L109.00 726.93L109.50 726.92L110.00 726.91L110.50 726.90L111.00 726.89L111.50 726.88L112.00 726.87L112.50 726.86L113.00 726.85L113.50 726.84L114.00 726.83L114.50 726.82L115.00 726.81L115.50 726.75L116.00 726.61L116.50 726.48L117.00 726.35L117.50 726.21L118.00 726.08L118.50 725.94L119.00 725.81L119.50 725.68L120.00 725.54L120.50 725.41L121.00 725.28L121.50 725.14L122.00 725.01L122.50 724.88L123.00 724.74L123.50 724.61L124.00 724.47L124.50 724.34L125.00 724.21L125.50 724.04L126.00 723.73L126.50 723.42L127.00 723.11L127.50 722.80L128.00 722.49L128.50 722.19L129.00 721.88L129.50 721.57L130.00 721.26L130.50 720.95L131.00 720.64L131.50 720.33L132.00 720.02L132.50 719.55L133.00 718.96L133.50 718.37L134.00 717.78L134.50 717.19L135.00 716.61L135.50 716.02L136.00 715.43L136.50 714.84L137.00 714.25L137.50 713.54L138.00 712.63L138.50 711.73L139.00 710.82L139.50 709.92L140.00 709.01L140.50 708.11L141.00 707.20L141.50 706.30L142.00 705.18L142.50 704.06L143.00 702.95L143.50 701.83L144.00 700.71L144.50 699.59L145.00 698.38L145.50 696.75L146.00 695.13L146.50 693.51L147.00 691.89L147.50 690.27L148.00 688.65L148.50 687.03L149.00 685.41L149.50 683.79L150.00 682.18L150.50 680.56L151.00 678.94L151.50 677.32L152.00 675.49L152.50 673.61L153.00 671.73L153.50 669.85L154.00 667.96L154.50 666.08L155.00 664.20L155.50 661.77L156.00 659.34L156.50 656.91L157.00 654.48L157.50 652.04L158.00 649.60L158.50 647.10L159.00 644.60L159.50 642.10L160.00 639.60L160.50 637.10L161.00 634.89L161.50 632.87L162.00 630.85L162.50 628.84L163.00 626.82L163.50 624.80L164.00 623.03L164.50 621.26L165.00 619.50L165.50 617.73L166.00 615.96L166.50 614.49L167.00 613.46L167.50 612.43L168.00 611.40L168.50 610.37L169.00 609.34L169.50 608.31L170.00 607.71L170.50 607.38L171.00 607.06L171.50 606.74L172.00 606.42L172.50 606.10L173.00 605.77L173.50 605.45L174.00 605.13L174.50 605.31L175.00 605.82L175.50 606.34L176.00 606.85L176.50 607.37L177.00 607.88L177.50 608.40L178.00 609.61L178.50 611.01L179.00 612.40L179.50 613.79L180.00 615.19L180.50 616.65L181.00 618.42L181.50 620.19L182.00 621.96L182.50 623.73L183.00 625.49L183.50 627.37L184.00 629.32L184.50 631.27L185.00 633.21L185.50 635.16L186.00 637.11L186.50 639.10L187.00 641.10L187.50 643.10L188.00 645.10L188.50 647.10L189.00 649.05L189.50 650.82L190.00 652.59L190.50 654.36L191.00 656.12L191.50 657.89L192.00 659.50L192.50 661.00L193.00 662.50L193.50 664.00L194.00 665.50L194.50 667.00L195.00 668.10L195.50 669.21L196.00 670.31L196.50 671.41L197.00 672.51L197.50 673.62L198.00 674.65L198.50 675.42L199.00 676.18L199.50 676.94L200.00 677.71L200.50 678.47L201.00 679.24L201.50 680.00L202.00 678.97L202.50 677.93L203.00 676.90L203.50 675.86L204.00 674.83L204.50 673.59L205.00 671.57L205.50 669.54L206.00 667.52L206.50 665.56L207.00 663.70L207.50 661.84L208.00 659.99L208.50 657.98L209.00 655.41L209.50 652.83L210.00 650.25L210.50 647.14L211.00 643.23L211.50 639.33L212.00 635.37L212.50 631.24L213.00 627.11L213.50 622.98L214.00 618.76L214.50 614.42L215.00 610.08L215.50 605.74L216.00 600.14L216.50 593.70L217.00 587.26L217.50 581.32L218.00 576.11L218.50 570.91L219.00 565.70L219.50 560.50L220.00 553.38L220.50 546.25L221.00 539.12L221.50 532.88L222.00 526.86L222.50 520.83L223.00 514.81L223.50 508.32L224.00 501.51L224.50 494.71L225.00 487.90L225.50 481.34L226.00 474.78L226.50 468.22L227.00 462.50L227.50 457.33L228.00 452.17L228.50 447.00L229.00 445.00L229.50 443.00L230.00 441.00L230.50 439.00L231.00 437.00L231.50 435.00L232.00 433.00L232.50 434.46L233.00 435.93L233.50 437.39L234.00 438.85L234.50 440.32L235.00 441.78L235.50 443.24L236.00 444.71L236.50 450.01L237.00 456.27L237.50 462.54L238.00 468.80L238.50 479.84L239.00 490.87L239.50 501.35L240.00 509.60L240.50 517.85L241.00 526.10L241.50 534.51L242.00 543.57L242.50 552.62L243.00 561.68L243.50 570.89L244.00 580.20L244.50 589.51L245.00 597.26L245.50 602.65L246.00 608.05L246.50 613.45L247.00 618.84L247.50 624.50L248.00 630.33L248.50 636.17L249.00 642.00L249.50 647.06L250.00 652.12L250.50 657.18L251.00 662.50L251.50 668.00L252.00 673.50L252.50 679.00L253.00 683.71L253.50 687.22L254.00 690.74L254.50 694.26L255.00 697.78L255.50 701.30L256.00 703.74L256.50 705.91L257.00 708.08L257.50 710.26L258.00 712.43L258.50 714.60L259.00 715.61L259.50 716.62L260.00 717.64L260.50 718.65L261.00 719.66L261.50 720.67L262.00 721.68L262.50 722.70L263.00 723.30L263.50 723.63L264.00 723.96L264.50 724.29L265.00 724.62L265.50 724.95L266.00 725.28L266.50 725.61L267.00 725.94L267.50 726.27L268.00 726.60L268.50 726.82L269.00 726.87L269.50 726.93L270.00 726.98L270.50 727.03L271.00 727.08L271.50 727.13L272.00 727.19L272.50 727.24L273.00 727.29L273.50 727.34L274.00 727.40L274.50 727.45L275.00 727.50L275.50 727.50L276.00 727.50L276.50 727.50L277.00 727.50L277.50 727.50L278.00 727.50L278.50 727.50L279.00 727.50L279.50 727.50L280.00 727.50L280.50 727.50L281.00 727.50L281.50 727.50L282.00 727.50L282.50 727.50L283.00 727.50L283.50 727.50L284.00 727.50L284.50 727.50L285.00 727.50L285.50 727.50L286.00 727.50L286.50 727.50L287.00 727.50L287.50 727.50L288.00 727.50L288.50 727.50L289.00 727.50L289.50 727.50L290.00 727.50L290.50 727.50L291.00 727.50L291.50 727.50L292.00 727.50L292.50 727.50L293.00 727.50L293.50 727.50L294.00 727.50L294.50 727.50L295.00 727.50L295.50 727.50L296.00 727.50L296.50 727.50L297.00 727.50L297.50 727.50L298.00 727.50L298.50 727.50L299.00 727.50L299.50 727.50L300.00 727.50L300.50 727.50L301.00 727.50L301.50 727.50L302.00 727.50L302.50 727.50L303.00 727.50L303.50 727.50L304.00 727.50L304.50 727.50L305.00 727.50L305.50 727.50L306.00 727.50L306.50 727.50L307.00 727.50L307.50 727.50L308.00 727.50L308.50 727.50L309.00 727.50L309.50 727.50L310.00 727.50L310.50 727.50L311.00 727.50L311.50 727.50L312.00 727.50L312.50 727.50L313.00 727.50L313.50 727.50L314.00 727.50L314.50 727.50L315.00 727.50L315.50 727.50L316.00 727.50L316.50 727.50L317.00 727.50L317.50 727.50L318.00 727.50L318.50 727.50L319.00 727.50L319.50 727.50L320.00 727.50L320.50 727.50L321.00 727.50L321.50 727.50L322.00 727.50L322.50 727.50L323.00 727.50L323.50 727.50L324.00 727.50L324.50 727.50L325.00 727.50L325.50 727.50L326.00 727.50L326.50 727.50L327.00 727.50L327.50 727.50L328.00 727.50L328.50 727.50L329.00 727.50L329.50 727.50L330.00 727.50L330.50 727.50L331.00 727.50L331.50 727.50L332.00 727.50L332.50 727.50L333.00 727.50L333.50 727.50L334.00 727.50L334.50 727.50L335.00 727.50L335.50 727.50L336.00 727.50L336.50 727.50L337.00 727.50L337.50 727.50L338.00 727.50L338.50 727.50L339.00 727.50L339.50 727.50L340.00 727.50L340.50 727.50L341.00 727.50L341.50 727.50L342.00 727.50L342.50 727.50L343.00 727.50L343.50 727.50L344.00 727.50L344.50 727.50L345.00 727.50L345.50 727.50L346.00 727.50L346.50 727.50L347.00 727.50L347.50 727.50" fill="none" stroke="#f00" stroke-width="1.5"/>
<g fill="#fff" stroke="#f00" stroke-width="1.75"><circle cx="73.90" cy="723.13" r="2.7"/><circle cx="75.70" cy="720.92" r="2.7"/><circle cx="77.50" cy="720.40" r="2.7"/><circle cx="79.30" cy="719.97" r="2.7"/><circle cx="81.10" cy="720.30" r="2.7"/><circle cx="82.90" cy="720.79" r="2.7"/><circle cx="84.70" cy="721.89" r="2.7"/><circle cx="86.50" cy="723.50" r="2.7"/><circle cx="88.30" cy="725.24" r="2.7"/><circle cx="90.10" cy="727.52" r="2.7"/><circle cx="100.90" cy="727.90" r="2.7"/><circle cx="102.70" cy="726.06" r="2.7"/><circle cx="104.50" cy="724.59" r="2.7"/><circle cx="106.30" cy="723.18" r="2.7"/><circle cx="108.10" cy="721.81" r="2.7"/><circle cx="109.90" cy="720.59" r="2.7"/><circle cx="111.70" cy="719.43" r="2.7"/><circle cx="113.50" cy="718.55" r="2.7"/><circle cx="115.30" cy="717.70" r="2.7"/><circle cx="117.10" cy="716.43" r="2.7"/><circle cx="118.90" cy="715.12" r="2.7"/><circle cx="120.70" cy="713.48" r="2.7"/><circle cx="122.50" cy="711.80" r="2.7"/><circle cx="124.30" cy="710.00" r="2.7"/><circle cx="126.10" cy="708.26" r="2.7"/><circle cx="127.90" cy="706.62" r="2.7"/><circle cx="129.70" cy="705.14" r="2.7"/><circle cx="131.50" cy="703.81" r="2.7"/><circle cx="133.30" cy="702.65" r="2.7"/><circle cx="135.10" cy="701.59" r="2.7"/><circle cx="136.90" cy="700.65" r="2.7"/><circle cx="138.70" cy="699.75" r="2.7"/><circle cx="140.50" cy="698.28" r="2.7"/><circle cx="142.30" cy="696.47" r="2.7"/><circle cx="144.10" cy="694.36" r="2.7"/><circle cx="145.90" cy="691.92" r="2.7"/><circle cx="147.70" cy="688.14" r="2.7"/><circle cx="149.50" cy="683.00" r="2.7"/><circle cx="151.30" cy="677.68" r="2.7"/><circle cx="153.10" cy="672.30" r="2.7"/><circle cx="154.90" cy="664.64" r="2.7"/><circle cx="156.70" cy="655.93" r="2.7"/><circle cx="158.50" cy="647.10" r="2.7"/><circle cx="160.30" cy="638.10" r="2.7"/><circle cx="162.10" cy="630.45" r="2.7"/><circle cx="163.90" cy="623.39" r="2.7"/><circle cx="165.70" cy="617.02" r="2.7"/><circle cx="167.50" cy="612.43" r="2.7"/><circle cx="169.30" cy="608.72" r="2.7"/><circle cx="171.10" cy="606.13" r="2.7"/><circle cx="172.90" cy="604.80" r="2.7"/><circle cx="174.70" cy="605.09" r="2.7"/><circle cx="176.50" cy="607.21" r="2.7"/><circle cx="178.30" cy="610.45" r="2.7"/><circle cx="180.10" cy="615.46" r="2.7"/><circle cx="181.90" cy="621.60" r="2.7"/><circle cx="183.70" cy="628.15" r="2.7"/><circle cx="185.50" cy="635.16" r="2.7"/><circle cx="187.30" cy="642.30" r="2.7"/><circle cx="189.10" cy="649.41" r="2.7"/><circle cx="190.90" cy="655.77" r="2.7"/><circle cx="192.70" cy="661.60" r="2.7"/><circle cx="194.50" cy="667.00" r="2.7"/><circle cx="196.30" cy="670.44" r="2.7"/><circle cx="198.10" cy="673.88" r="2.7"/><circle cx="199.90" cy="677.35" r="2.7"/><circle cx="201.70" cy="679.40" r="2.7"/><circle cx="203.50" cy="676.58" r="2.7"/><circle cx="205.30" cy="670.09" r="2.7"/><circle cx="207.10" cy="663.33" r="2.7"/><circle cx="208.90" cy="655.92" r="2.7"/><circle cx="210.70" cy="645.58" r="2.7"/><circle cx="212.50" cy="631.24" r="2.7"/><circle cx="214.30" cy="616.16" r="2.7"/><circle cx="216.10" cy="598.85" r="2.7"/><circle cx="217.90" cy="577.15" r="2.7"/><circle cx="219.70" cy="557.65" r="2.7"/><circle cx="221.50" cy="532.88" r="2.7"/><circle cx="223.30" cy="511.04" r="2.7"/><circle cx="225.10" cy="486.59" r="2.7"/><circle cx="226.90" cy="463.53" r="2.7"/><circle cx="228.70" cy="444.16" r="2.7"/><circle cx="230.50" cy="430.51" r="2.7"/><circle cx="232.30" cy="426.40" r="2.7"/><circle cx="234.10" cy="430.25" r="2.7"/><circle cx="235.90" cy="443.26" r="2.7"/><circle cx="237.70" cy="465.04" r="2.7"/><circle cx="239.50" cy="501.35" r="2.7"/><circle cx="241.30" cy="531.05" r="2.7"/><circle cx="243.10" cy="563.49" r="2.7"/><circle cx="244.90" cy="596.18" r="2.7"/><circle cx="246.70" cy="615.60" r="2.7"/><circle cx="248.50" cy="636.17" r="2.7"/><circle cx="250.30" cy="655.15" r="2.7"/><circle cx="252.10" cy="668.78" r="2.7"/><circle cx="253.90" cy="680.33" r="2.7"/><circle cx="255.70" cy="688.13" r="2.7"/><circle cx="257.50" cy="693.75" r="2.7"/><circle cx="259.30" cy="698.00" r="2.7"/><circle cx="261.10" cy="701.60" r="2.7"/><circle cx="262.90" cy="704.40" r="2.7"/><circle cx="264.70" cy="706.73" r="2.7"/><circle cx="266.50" cy="708.31" r="2.7"/><circle cx="268.30" cy="709.90" r="2.7"/><circle cx="270.10" cy="711.31" r="2.7"/><circle cx="271.90" cy="712.73" r="2.7"/><circle cx="273.70" cy="713.98" r="2.7"/><circle cx="275.50" cy="715.15" r="2.7"/><circle cx="277.30" cy="716.32" r="2.7"/><circle cx="279.10" cy="717.34" r="2.7"/><circle cx="280.90" cy="718.21" r="2.7"/><circle cx="282.70" cy="719.09" r="2.7"/><circle cx="284.50" cy="719.96" r="2.7"/><circle cx="286.30" cy="720.73" r="2.7"/><circle cx="288.10" cy="721.44" r="2.7"/><circle cx="289.90" cy="722.15" r="2.7"/><circle cx="291.70" cy="722.86" r="2.7"/><circle cx="293.50" cy="723.43" r="2.7"/><circle cx="295.30" cy="723.92" r="2.7"/><circle cx="297.10" cy="724.41" r="2.7"/><circle cx="298.90" cy="724.91" r="2.7"/><circle cx="300.70" cy="725.40" r="2.7"/><circle cx="302.50" cy="725.73" r="2.7"/><circle cx="304.30" cy="726.05" r="2.7"/><circle cx="306.10" cy="726.38" r="2.7"/><circle cx="307.90" cy="726.71" r="2.7"/><circle cx="309.70" cy="727.04" r="2.7"/><circle cx="311.50" cy="727.71" r="2.7"/><circle cx="320.50" cy="727.97" r="2.7"/><circle cx="322.30" cy="726.85" r="2.7"/><circle cx="324.10" cy="726.38" r="2.7"/><circle cx="325.90" cy="725.90" r="2.7"/><circle cx="327.70" cy="725.42" r="2.7"/><circle cx="329.50" cy="724.96" r="2.7"/><circle cx="331.30" cy="724.53" r="2.7"/><circle cx="333.10" cy="724.10" r="2.7"/><circle cx="334.90" cy="723.67" r="2.7"/><circle cx="336.70" cy="723.24" r="2.7"/><circle cx="338.50" cy="722.70" r="2.7"/><circle cx="340.30" cy="722.11" r="2.7"/><circle cx="342.10" cy="721.52" r="2.7"/><circle cx="343.90" cy="720.93" r="2.7"/><circle cx="345.70" cy="720.33" r="2.7"/></g>
<text x="295.5" y="426.8" class="big2">C</text>
<text x="251.5" y="480" class="tl" style="font-size:15px">200</text>
<text x="138.5" y="581.8" class="tl">1-10</text>
<text x="175.3" y="581.8" class="tl" style="font-size:15px">110</text>
<path d="M148.4 583.7L156.5 595" stroke="#000" stroke-width="2"/>
<path d="M161.8 602.8L152.6 597.3L158.6 592.5Z" fill="#000"/>
<path d="M191.2 583.7L186.5 595" stroke="#000" stroke-width="2"/>
<path d="M182.2 602.8L183.2 592.6L190.2 595.6Z" fill="#000"/>
<rect x="81.8" y="409.8" width="86.2" height="96.8" fill="#fff"/>
<path d="M81.8 409.8H168V506.6" fill="none" stroke="#8c8c8c" stroke-width="1.4"/>
<path d="M81.8 409.8V506.6H168" fill="none" stroke="#000" stroke-width="1.4"/>
<path d="M77.3 409.8H81.8M77.3 434.0H81.8M77.3 458.2H81.8M77.3 482.4H81.8M77.3 506.6H81.8M81.8 506.6V510.6M168 506.6V510.6" stroke="#000" stroke-width="1.2"/>
<text x="65" y="415.2" text-anchor="middle" class="tl">4</text>
<text x="65" y="439.4" text-anchor="middle" class="tl">3</text>
<text x="65" y="463.6" text-anchor="middle" class="tl">2</text>
<text x="65" y="487.8" text-anchor="middle" class="tl">1</text>
<text x="65" y="512.0" text-anchor="middle" class="tl">0</text>
<text x="82.3" y="529" text-anchor="middle" class="tl">0</text>
<text x="168.4" y="528.7" text-anchor="middle" class="tl">1000</text>
<text x="116.5" y="545" class="axb" style="font-size:15px"><tspan font-style="italic">q</tspan><tspan dy="-5.6" style="font-size:9px">2</tspan><tspan dy="5.6" dx="0.4" font-style="italic">d</tspan></text>
<text transform="translate(48.8,502.2) rotate(-90)" class="ax">delta <tspan font-style="italic">q</tspan></text>
<text x="140.3" y="497.8" class="big3">D</text>
<path d="M84.2 464.2L95.4 458.2" stroke="#4a7ebb" stroke-width="1.6" stroke-dasharray="1.2 0.9"/>
<path d="M105.3 452.9L145 431.4" stroke="#4a7ebb" stroke-width="1.5"/>
<path d="M88.7 420.1L93.3 424.5L88.7 428.9L84.1 424.5ZM88.7 422.3L93.3 426.7L88.7 431.1L84.1 426.7ZM99.5 451.9L104.2 456.4L99.5 460.9L94.8 456.4ZM152.0 421.1L156.7 425.5L152.0 429.9L147.3 425.5ZM152.0 423.9L156.7 428.3L152.0 432.7L147.3 428.3Z" fill="#000080"/>
</svg>
</body></html>
